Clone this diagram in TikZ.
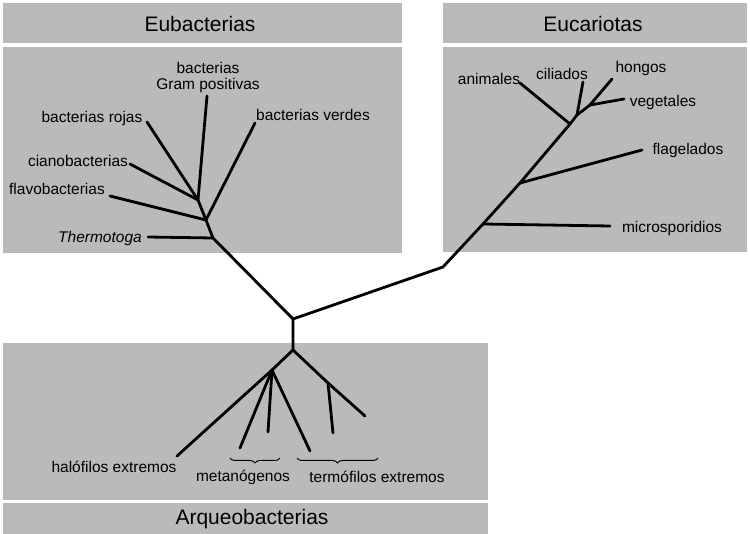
\documentclass[tikz,border=0pt]{standalone}
\usepackage{fontspec}
\setmainfont{Liberation Sans}
\usetikzlibrary{decorations.pathreplacing}
\begin{document}
\begin{tikzpicture}[x=1pt,y=-1pt,
  panel/.style={fill=black!27,draw=none},
  branch/.style={line width=2.8pt,line cap=round,line join=round},
  lbl/.style={font=\fontsize{15.5}{17}\selectfont,inner sep=0pt,align=center},
  ttl/.style={font=\fontsize{21}{23}\selectfont,inner sep=0pt},
  brc/.style={decorate,decoration={brace,mirror,amplitude=5pt},line width=1pt}]
\useasboundingbox (0,0) rectangle (750,534);
% panels
\fill[panel] (3,3) rectangle (402,43);
\fill[panel] (3,47) rectangle (402,253);
\fill[panel] (443,3) rectangle (747,43);
\fill[panel] (443,47) rectangle (747,252);
\fill[panel] (3,343) rectangle (488,500);
\fill[panel] (3,503) rectangle (488,534);
% titles
\node[ttl] (teu) at (200,24) {Eubacterias};
\node[ttl] (tek) at (593,24) {Eucariotas};
\node[ttl] (tar) at (252,519) {Arqueobacterias};
% junctions
\coordinate (R) at (293,319);
\coordinate (A0) at (293,350);
\coordinate (T) at (213,238);
\coordinate (B) at (206,220);
\coordinate (G) at (198,200);
\coordinate (K) at (443,267);
\coordinate (M) at (483,224);
\coordinate (F) at (520,183);
\coordinate (An) at (570,124);
\coordinate (C) at (577,115);
\coordinate (H) at (590,105);
\coordinate (A1) at (272,370);
\coordinate (A2) at (328,383);
% leaf ends
\coordinate (eGram) at (207,96);
\coordinate (eRoj) at (147,122);
\coordinate (eCia) at (130,164);
\coordinate (eFla) at (110,196);
\coordinate (eVer) at (255,123);
\coordinate (eThe) at (148,237);
\coordinate (eMic) at (610,226);
\coordinate (eFlg) at (642,150);
\coordinate (eAni) at (520,83);
\coordinate (eCil) at (583,82);
\coordinate (eHon) at (612,79);
\coordinate (eVeg) at (624,99);
\coordinate (eHal) at (177,456);
\coordinate (eM1) at (240,448);
\coordinate (eM2) at (268,432);
\coordinate (eT1) at (310,451);
\coordinate (eT2) at (333,433);
\coordinate (eT3) at (365,416);
% branches
\draw[branch] (A0) -- (R) -- (T) -- (B) -- (G) -- (eGram);
\draw[branch] (G) -- (eRoj);
\draw[branch] (G) -- (eCia);
\draw[branch] (B) -- (eFla);
\draw[branch] (B) -- (eVer);
\draw[branch] (T) -- (eThe);
\draw[branch] (R) -- (K) -- (M) -- (F) -- (An) -- (C) -- (H) -- (eHon);
\draw[branch] (M) -- (eMic);
\draw[branch] (F) -- (eFlg);
\draw[branch] (An) -- (eAni);
\draw[branch] (C) -- (eCil);
\draw[branch] (H) -- (eVeg);
\draw[branch] (A0) -- (A1) -- (eHal);
\draw[branch] (A1) -- (eM1);
\draw[branch] (A1) -- (eM2);
\draw[branch] (A1) -- (eT1);
\draw[branch] (A0) -- (A2) -- (eT3);
\draw[branch] (A2) -- (eT2);
% braces
\coordinate (bm1) at (230,458);
\coordinate (bm2) at (280,458);
\coordinate (bt1) at (297,458);
\coordinate (bt2) at (378,458);
\draw[brc] (bm1) -- (bm2);
\draw[brc] (bt1) -- (bt2);
% labels
\node[lbl] (lGram) at (208,77) {bacterias\\[-1pt]Gram positivas};
\node[lbl] (lRoj) at (92,118) {bacterias rojas};
\node[lbl] (lVer) at (313,115) {bacterias verdes};
\node[lbl] (lCia) at (78,161) {cianobacterias};
\node[lbl] (lFla) at (57,189) {flavobacterias};
\node[lbl] (lThe) at (100,238) {\itshape Thermotoga};
\node[lbl] (lAni) at (489,79) {animales};
\node[lbl] (lCil) at (562,74) {ciliados};
\node[lbl] (lHon) at (641,68) {hongos};
\node[lbl] (lVeg) at (663,102) {vegetales};
\node[lbl] (lFlg) at (688,150) {flagelados};
\node[lbl] (lMic) at (672,228) {microsporidios};
\node[lbl] (lHal) at (114,467) {halófilos extremos};
\node[lbl] (lMet) at (243,477) {metanógenos};
\node[lbl] (lTer) at (377,477) {termófilos extremos};
\end{tikzpicture}
\end{document}
